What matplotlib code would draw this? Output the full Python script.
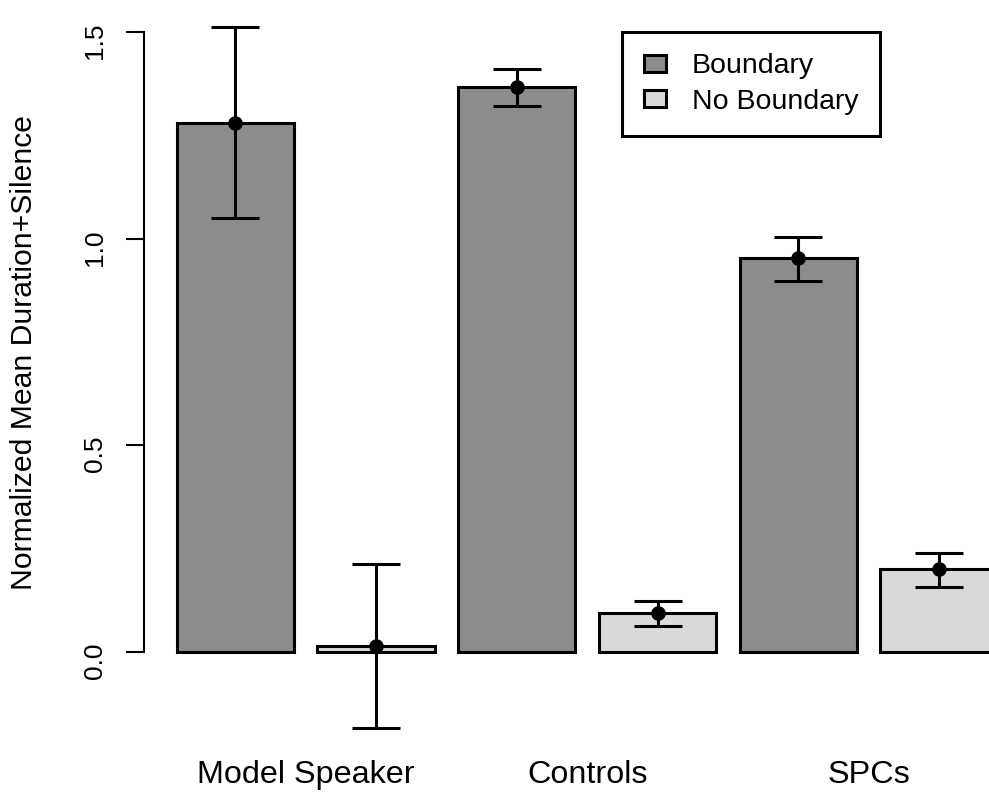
import numpy as np
import matplotlib
matplotlib.use("Agg")
import matplotlib.pyplot as plt
from matplotlib.patches import Patch
from matplotlib.transforms import blended_transform_factory

plt.rcParams["font.family"] = ["Liberation Sans", "DejaVu Sans"]

groups = ["Model Speaker", "Controls", "SPCs"]
conditions = ["Boundary", "No Boundary"]
# means and error-bar ends (rows: groups, cols: Boundary / No Boundary)
means = np.array([[1.28, 0.015], [1.368, 0.095], [0.953, 0.200]])
err_lo = np.array([[1.050, -0.183], [1.322, 0.063], [0.898, 0.158]])
err_hi = np.array([[1.512, 0.213], [1.410, 0.124], [1.004, 0.240]])
yticks = [0.0, 0.5, 1.0, 1.5]
ytick_labels = ["0.0", "0.5", "1.0", "1.5"]

FILLS = ["#8c8c8c", "#d9d9d9"]
LW = 2.2

fig = plt.figure(figsize=(9.89, 7.92), dpi=100)
ax = fig.add_axes([0.1454, 0.0202, 0.8967, 0.9655])

# R-style barplot: width 1, space 0.2 between every bar
lefts = 0.2 + 1.2 * np.arange(6)
centers = lefts + 0.5
vals = means.ravel()
cols = [FILLS[i % 2] for i in range(6)]
ax.bar(centers, vals, width=1.0, color=cols, edgecolor="black", linewidth=LW, zorder=2)

lo = err_lo.ravel()
hi = err_hi.ravel()
ax.errorbar(centers, vals, yerr=[vals - lo, hi - vals], fmt="o", color="black",
            ms=9.5, elinewidth=LW, capsize=17, capthick=LW, zorder=3, clip_on=False)

ax.set_xlim(-0.08, 7.48)
ax.set_ylim(-0.3, 1.55)

for s in ("top", "right", "bottom"):
    ax.spines[s].set_visible(False)
ax.spines["left"].set_bounds(0, 1.5)
ax.spines["left"].set_linewidth(1.5)
ax.set_yticks(yticks, ytick_labels)
ax.tick_params(axis="y", length=13, width=1.5, pad=13.5, labelsize=19, labelrotation=90)
ax.set_xticks([])

# group labels under each pair
trans = blended_transform_factory(ax.transData, ax.transData)
gc = [(lefts[2 * i] + lefts[2 * i + 1] + 1) / 2 for i in range(3)]
for x, g in zip(gc, groups):
    ax.text(x, -0.316, g, ha="center", va="baseline", fontsize=23.3, transform=trans)

fig.text(24 / 989, 1 - 352 / 792, "Normalized Mean Duration+Silence", rotation=90,
         ha="center", va="center", fontsize=21.7)

handles = [Patch(facecolor=FILLS[i], edgecolor="black", linewidth=LW) for i in range(2)]
leg = ax.legend(handles, conditions, loc="upper left", bbox_to_anchor=(4.0, 1.5),
                bbox_transform=ax.transData, borderaxespad=0, fontsize=20.5,
                fancybox=False, framealpha=1, edgecolor="black",
                handlelength=0.78, handleheight=0.57, handletextpad=0.9,
                labelspacing=0.33, borderpad=0.75)
leg.get_frame().set_linewidth(LW)

fig.savefig("out.png", dpi=100)
